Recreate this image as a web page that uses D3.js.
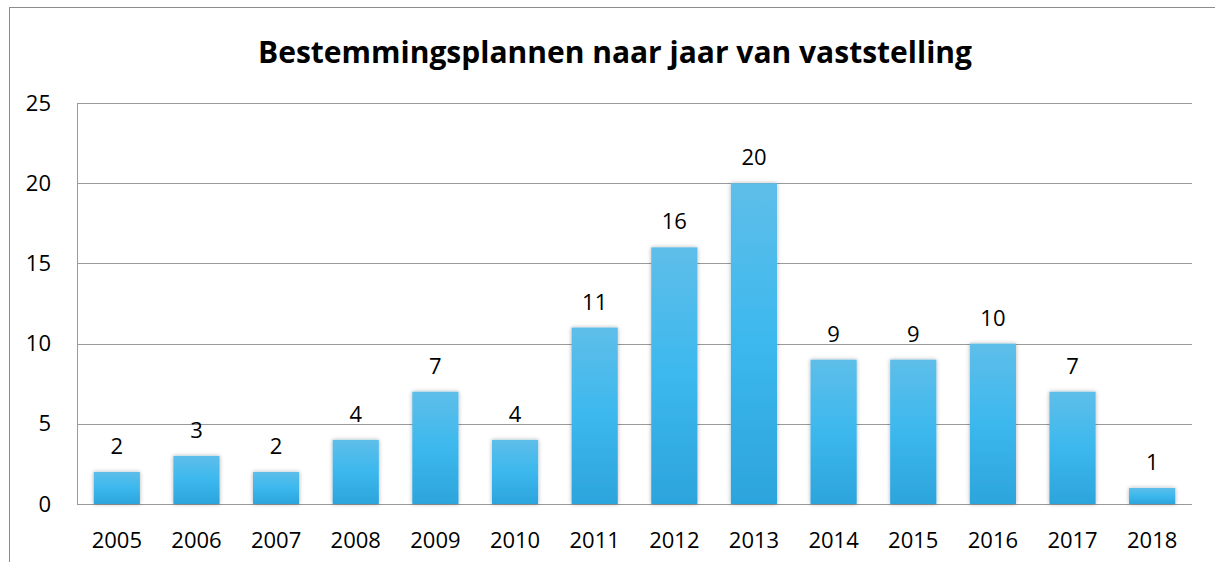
<!DOCTYPE html>
<html>
<head>
<meta charset="utf-8">
<script src="https://cdn.jsdelivr.net/npm/d3@7"></script>
<style>
  body { margin: 0; background: #fff; }
  svg { display: block; font-family: "Open Sans", "Noto Sans", sans-serif; }
</style>
</head>
<body>
<svg id="chart"></svg>
<script>
(function() {

const years = ["2005", "2006", "2007", "2008", "2009", "2010", "2011", "2012", "2013", "2014", "2015", "2016", "2017", "2018"];
const counts = [2, 3, 2, 4, 7, 4, 11, 16, 20, 9, 9, 10, 7, 1];
const yTicks = [0, 5, 10, 15, 20, 25];
const title = "Bestemmingsplannen naar jaar van vaststelling";

const W = 1215, H = 562;
const margin = { top: 103, right: 23, bottom: 58, left: 77 };
const width = W - margin.left - margin.right;
const height = H - margin.top - margin.bottom;
const labelFont = "22px";

const svg = d3.select("#chart")
    .attr("width", W)
    .attr("height", H);

const defs = svg.append("defs");
const grad = defs.append("linearGradient")
    .attr("id", "barGrad")
    .attr("x1", 0).attr("y1", 0).attr("x2", 0).attr("y2", 1);
grad.append("stop").attr("offset", "0%").attr("stop-color", "#5ebee9");
grad.append("stop").attr("offset", "50%").attr("stop-color", "#3cb8ee");
grad.append("stop").attr("offset", "100%").attr("stop-color", "#2ca4dc");

const shadow = defs.append("filter")
    .attr("id", "shadow")
    .attr("x", "-20%").attr("y", "-20%").attr("width", "140%").attr("height", "140%");
shadow.append("feDropShadow")
    .attr("dx", 0).attr("dy", 0)
    .attr("stdDeviation", 2)
    .attr("flood-color", "#000")
    .attr("flood-opacity", 0.3);

// outer chart border
svg.append("rect")
    .attr("x", 9.5).attr("y", 7.5)
    .attr("width", W).attr("height", H)
    .attr("fill", "none")
    .attr("stroke", "#8c8c8c")
    .attr("stroke-width", 1);

svg.append("text")
    .attr("x", 615)
    .attr("y", 63)
    .attr("text-anchor", "middle")
    .attr("font-size", "30px")
    .attr("font-weight", "bold")
    .attr("fill", "#000")
    .text(title);

const g = svg.append("g")
    .attr("transform", `translate(${margin.left},${margin.top})`);

const x = d3.scaleBand()
    .domain(years)
    .range([0, width])
    .paddingInner(0.42)
    .paddingOuter(0.21);

const y = d3.scaleLinear()
    .domain([0, 25])
    .range([height, 0]);

// gridlines
g.append("g")
    .selectAll("line")
    .data(yTicks)
    .join("line")
    .attr("x1", 0)
    .attr("x2", width)
    .attr("y1", d => Math.round(y(d)) + 0.5)
    .attr("y2", d => Math.round(y(d)) + 0.5)
    .attr("stroke", "#9a9a9a")
    .attr("stroke-width", 1);

// y axis line
g.append("line")
    .attr("x1", 0.5).attr("x2", 0.5)
    .attr("y1", 0).attr("y2", height)
    .attr("stroke", "#9a9a9a");

// y axis labels
const yAxis = g.append("g")
    .call(d3.axisLeft(y).tickValues(yTicks).tickSize(0).tickPadding(26));
yAxis.select(".domain").remove();
yAxis.selectAll("text")
    .attr("font-size", labelFont)
    .attr("font-family", "'Open Sans', 'Noto Sans', sans-serif")
    .attr("fill", "#000");

// x axis labels
const xAxis = g.append("g")
    .attr("transform", `translate(0,${height})`)
    .call(d3.axisBottom(x).tickSize(0).tickPadding(28));
xAxis.select(".domain").remove();
xAxis.selectAll("text")
    .attr("font-size", labelFont)
    .attr("font-family", "'Open Sans', 'Noto Sans', sans-serif")
    .attr("fill", "#000");

// bars
g.append("g")
    .selectAll("rect")
    .data(counts)
    .join("rect")
    .attr("x", (d, i) => x(years[i]))
    .attr("y", d => y(d))
    .attr("width", x.bandwidth())
    .attr("height", d => height - y(d))
    .attr("fill", "url(#barGrad)")
    .attr("filter", "url(#shadow)");

// value labels
g.append("g")
    .selectAll("text")
    .data(counts)
    .join("text")
    .attr("x", (d, i) => x(years[i]) + x.bandwidth() / 2)
    .attr("y", d => y(d) - 18)
    .attr("text-anchor", "middle")
    .attr("font-size", labelFont)
    .attr("fill", "#000")
    .text(d => d);

})();
</script>
</body>
</html>
